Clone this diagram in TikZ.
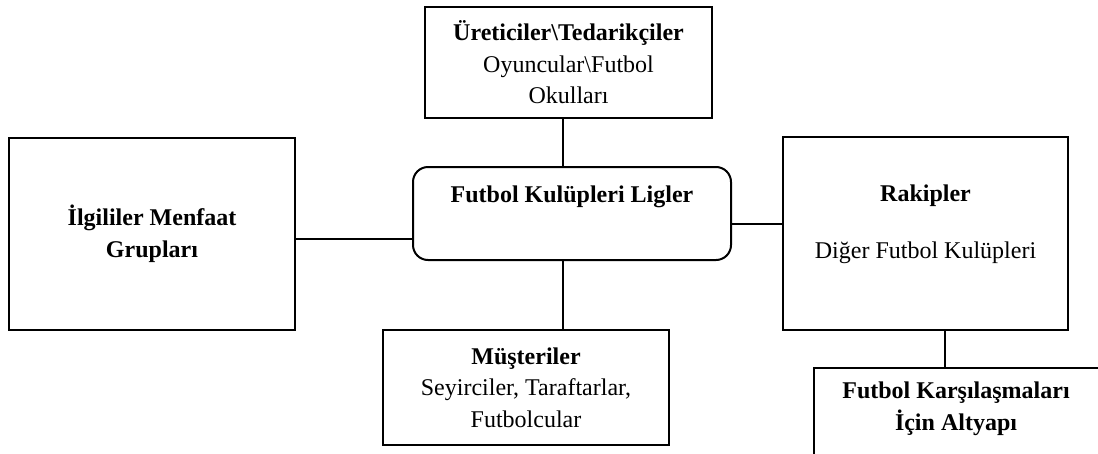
\documentclass[tikz,border=0pt]{standalone}
\usepackage{fontspec}
\setmainfont{Liberation Serif}
\tikzset{
  kutu/.style={draw, line width=2pt, inner sep=0pt, align=center, font=\fontsize{24}{31.5}\selectfont},
  yazi/.style={inner sep=0pt, align=center, font=\fontsize{24}{31.5}\selectfont},
  hat/.style={line width=2pt}
}
\begin{document}
\begin{tikzpicture}[x=1pt, y=-1pt]
\clip (0,0) rectangle (1098,453);
\node[kutu, minimum width=287, minimum height=111] (ureticiler) at (568.5,62.5){\textbf{Üreticiler\textbackslash Tedarikçiler}\\Oyuncular\textbackslash Futbol\\Okulları};
\node[kutu, rounded corners=15pt, minimum width=318, minimum height=93] (kulup) at (572,213.5){};
\node[yazi] (kulupyazi) at (572,197){\textbf{Futbol Kulüpleri Ligler}};
\node[kutu, minimum width=286, minimum height=192] (ilgili) at (152,234){\textbf{İlgililer Menfaat}\\\textbf{Grupları}};
\node[kutu, minimum width=285, minimum height=193] (rakip) at (925.5,233.5){};
\node[yazi] (rakipyazi) at (925.5,224.5){\textbf{Rakipler}\\[25pt]Diğer Futbol Kulüpleri};
\node[kutu, minimum width=286, minimum height=115] (musteri) at (526,387.5){\textbf{Müşteriler}\\Seyirciler, Taraftarlar,\\Futbolcular};
\node[kutu, minimum width=292, minimum height=120] (altyapi) at (960,428){};
\node[yazi] (altyapiyazi) at (956,409){\textbf{Futbol Karşılaşmaları}\\\textbf{İçin Altyapı}};
\draw[hat]([xshift=-9pt]kulup.north) -- ([xshift=-9pt]kulup.north |- ureticiler.south);
\draw[hat]([xshift=-9pt]kulup.south) -- ([xshift=-9pt]kulup.south |- musteri.north);
\draw[hat]([yshift=-5pt]ilgili.east) -- ([yshift=-5pt]ilgili.east -| kulup.west);
\draw[hat]([yshift=-10.5pt]kulup.east) -- ([yshift=-10.5pt]kulup.east -| rakip.west);
\draw[hat]([xshift=19.5pt]rakip.south) -- ([xshift=19.5pt]rakip.south |- altyapi.north);
\end{tikzpicture}
\end{document}
